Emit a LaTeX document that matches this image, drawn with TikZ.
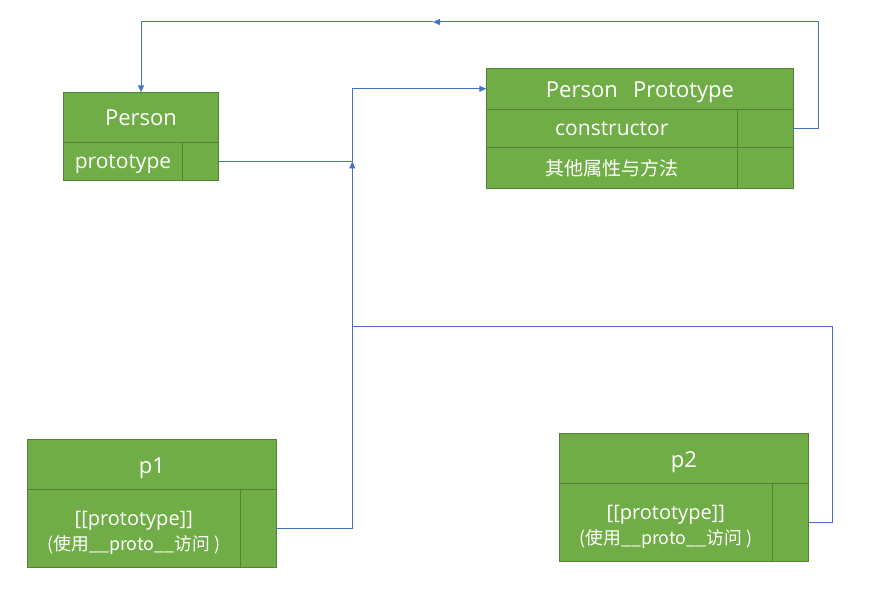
\documentclass[tikz,border=0pt]{standalone}
\usepackage{fontspec}
\setmainfont{Open Sans}
\newfontfamily\cjk{Noto Sans CJK SC}
\usetikzlibrary{arrows.meta}
\definecolor{boxfill}{HTML}{70AD47}
\definecolor{boxline}{HTML}{548235}
\definecolor{linkblue}{HTML}{4472C4}
\begin{document}
\begin{tikzpicture}[x=1pt, y=-1pt,
	cell/.style={draw=boxline, fill=boxfill, line width=1pt, text=white,
		inner sep=0pt, outer sep=0pt, anchor=north west},
	big/.style={font=\fontsize{22}{26}\selectfont, text height=17pt, text depth=0pt},
	mid/.style={font=\fontsize{21}{25}\selectfont, text height=15pt, text depth=0pt},
	link/.style={draw=linkblue, line width=1pt},
	tip/.style={-{Triangle[length=7pt,width=6pt]}}]
\useasboundingbox (0,0) rectangle (872,601);
% Person
\node[cell, big, minimum width=155.4, minimum height=50.4] (person) at (63.3,92.3) {Person};
\node[cell, mid, minimum width=119.4, minimum height=37.6] (person-proto) at (person.south west) {prototype};
\node[cell, minimum width=36, minimum height=37.6] (person-ptr) at (person-proto.north east) {};
% Person Prototype
\node[cell, big, minimum width=307.4, minimum height=41] (proto) at (486.3,68.3) {Person\hspace{0.7em}Prototype};
\node[cell, mid, minimum width=251, minimum height=38] (proto-con) at (proto.south west) {constructor};
\node[cell, minimum width=56.4, minimum height=38] (proto-con-ptr) at (proto-con.north east) {};
\node[cell, font=\cjk\fontsize{19}{22}\selectfont, minimum width=251, minimum height=41] (proto-other) at (proto-con.south west) {其他属性与方法};
\node[cell, minimum width=56.4, minimum height=41] (proto-other-ptr) at (proto-other.north east) {};
% instances
\foreach \n/\x/\y in {p1/27.3/439.3, p2/559.3/433.3} {
	\node[cell, big, minimum width=249.4, minimum height=50.4] (\n) at (\x,\y) {\n};
	\node[cell, font=\fontsize{20}{24}\selectfont, minimum width=213, minimum height=77.6, align=center] (\n-body) at (\n.south west)
		{\rule{0pt}{23pt}[[prototype]]\\[1pt]{\cjk\fontsize{17.8}{21}\selectfont (使用\_\_proto\_\_访问 )}};
	\node[cell, minimum width=36.4, minimum height=77.6] (\n-ptr) at (\n-body.north east) {};
}
\coordinate (join) at (352.3,161.5);
\coordinate (merge) at (352.3,326);
\coordinate (turn) at (433,22);
\draw[link, tip] (person-ptr.east) -- (join) |- (proto.west);
\draw[link, tip] (p1-ptr.east) -| (join);
\draw[link] (p2-ptr.east) -| (832.7,326) -- (merge);
\draw[link, tip] (proto-con-ptr.east) -| (818.3,22) -- (turn);
\draw[link, tip] (turn) -| (person.north);
\end{tikzpicture}
\end{document}
